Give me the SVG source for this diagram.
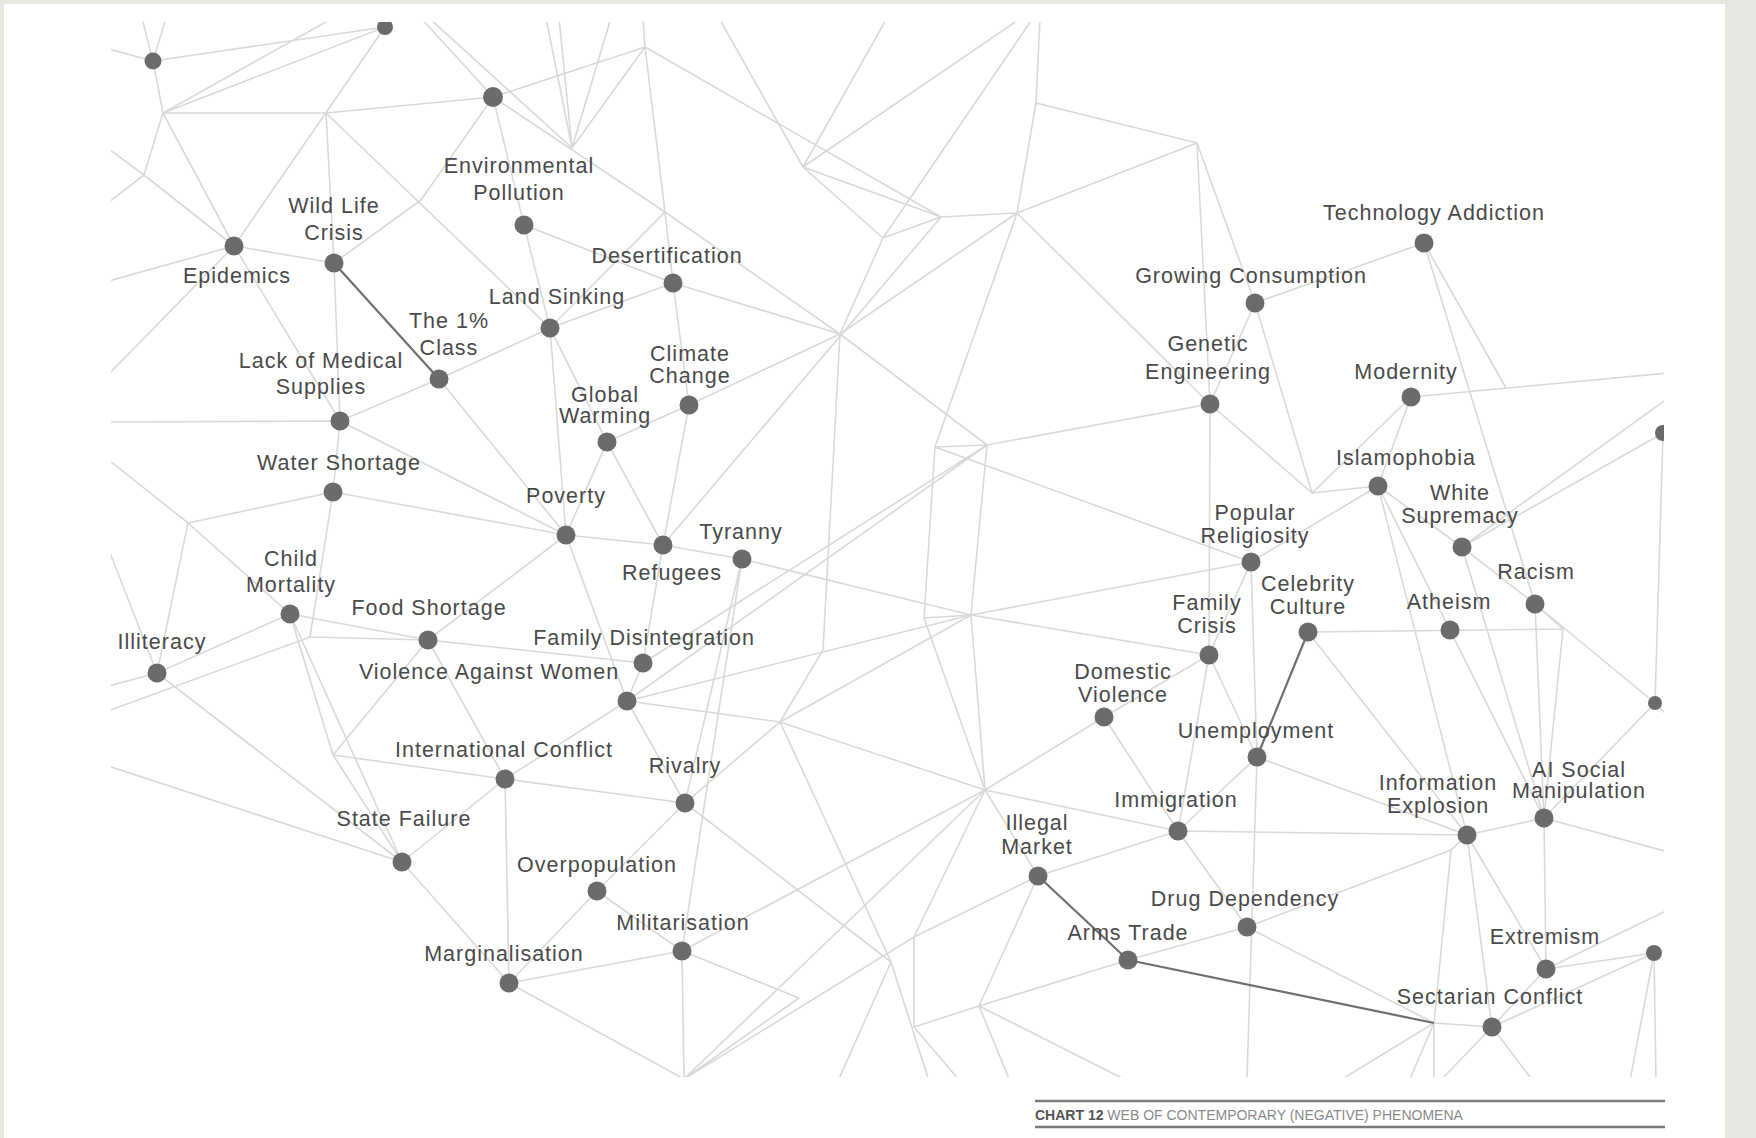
<svg xmlns="http://www.w3.org/2000/svg" width="1756" height="1138" viewBox="0 0 1756 1138">
<defs>
<style>
.e{stroke:#d9d9d9;stroke-width:1.6;fill:none}
.d{stroke:#6f6f6f;stroke-width:2.2;fill:none}
.n{fill:#6b6b6b}
.t{font-family:"Liberation Sans",Arial,sans-serif;font-size:21.5px;letter-spacing:1px;fill:#4a4a4a;text-anchor:middle}
.cap{font-family:"Liberation Sans",Arial,sans-serif;font-size:14px}
</style>
<clipPath id="plot"><rect x="111" y="22" width="1553" height="1055"/></clipPath>
</defs>
<rect x="0" y="0" width="1756" height="1138" fill="#e8e8e3"/>
<rect x="4" y="4" width="1721" height="1134" fill="#ffffff"/>
<g id="connectors" clip-path="url(#plot)">
<path class="e" d="M153 61L142 18M153 61L166 18M153 61L105 48M153 61L385 27M153 61L163 113M163 113L385 27M163 113L333 18M163 113L326 113M163 113L144 175M163 113L234 246M144 175L105 146M144 175L105 205M144 175L234 246M234 246L105 282M234 246L105 378M234 246L334 263M234 246L340 421M385 27L234 246M326 113L493 97M326 113L334 263M326 113L550 328M334 263L421 200M421 200L493 97M334 263L340 421M493 97L645 47M493 97L665 212M493 97L524 225M421 18L493 97M429 18L572 148M572 148L546 18M572 148L559 18M572 148L611 18M645 47L572 148M645 47L643 18M645 47L665 212M645 47L941 217M665 212L673 283M665 212L550 328M665 212L840 334M524 225L550 328M524 225L673 283M550 328L673 283M550 328L439 379M550 328L566 535M550 328L607 442M439 379L340 421M439 379L566 535M673 283L689 405M673 283L840 334M689 405L607 442M689 405L663 545M689 405L840 334"/>
<path class="e" d="M340 421L105 422M340 421L333 492M340 421L566 535M333 492L566 535M333 492L188 523M333 492L310 637M188 523L105 457M188 523L157 673M188 523L290 614M105 540L157 673M157 673L105 687M157 673L290 614M157 673L402 862M105 712L310 637M310 637L428 640M290 614L428 640M290 614L333 755M290 614L402 862M428 640L333 755M333 755L505 779M333 755L402 862M428 640L566 535M428 640L643 663M428 640L505 779M566 535L607 442M566 535L663 545M566 535L627 701M607 442L663 545M663 545L742 559M663 545L941 217M663 545L643 663M643 663L627 701M643 663L987 445M627 701L987 445M627 701L971 615M971 615L1251 562M627 701L780 722M627 701L505 779M627 701L685 803"/>
<path class="e" d="M105 765L402 862M402 862L505 779M402 862L509 983M505 779L509 983M505 779L685 803M597 891L685 803M597 891L509 983M597 891L682 951M509 983L682 951M509 983L684 1079M682 951L684 1079M742 559L685 803M742 559L682 951M742 559L971 615M971 615L1209 655M685 803L780 722M685 803L891 962M780 722L891 962M780 722L985 790M780 722L971 615M840 334L823 650M823 650L780 722M840 334L987 445M1017 213L935 447M935 447L987 445L971 615L924 618ZM1210 404L987 445M935 447L1251 562M924 618L985 790M971 615L985 790"/>
<path class="e" d="M719 18L803 167M887 18L803 167M1021 18L803 167M803 167L941 217M803 167L883 238M1033 18L883 238M883 238L941 217M941 217L1017 213M1040 18L1036 103M1036 103L1017 213M1036 103L1197 143M1017 213L1197 143M1017 213L1210 404M1017 213L840 334M883 238L840 334"/>
<path class="e" d="M1197 143L1210 404M1197 143L1255 303M1255 303L1424 243M1255 303L1210 404M1255 303L1312 493M1210 404L1312 493M1411 397L1312 493M1312 493L1378 486M1411 397L1378 486M1411 397L1668 373M1424 243L1506 388M1424 243L1535 604M1210 404L1209 655M1251 562L1378 486M1251 562L1257 757M1251 562L1209 655M1378 486L1462 547M1378 486L1467 835M1378 486L1544 818M1462 547L1663 433M1462 547L1668 398M1462 547L1535 604M1535 604L1655 703M1462 547L1544 818M1535 604L1544 818M1535 604L1563 629M1308 632L1563 629M1563 629L1544 818M1308 632L1467 835M1450 630L1544 818M1663 433L1655 703M1655 703L1544 818M1655 703L1668 716"/>
<path class="e" d="M1209 655L1257 757M1209 655L1178 831M1209 655L1104 717M1104 717L1178 831M1104 717L985 790M1257 757L1178 831M1257 757L1247 1079M1257 757L1467 835M1178 831L1467 835M1178 831L1247 927M1178 831L1038 876M1178 831L985 790M1038 876L985 790M1038 876L914 937M914 937L684 1079M682 951L985 790M684 1079L985 790M914 937L985 790M914 937L914 1027M1038 876L979 1006M1128 960L979 1006M979 1006L1128 1081M979 1006L1010 1081M979 1006L914 1027M891 962L838 1081M891 962L929 1081M914 1027L960 1081M682 951L799 998M799 998L684 1079M1128 960L1247 927"/>
<path class="e" d="M1467 835L1544 818M1467 835L1451 850M1451 850L1247 927M1451 850L1434 1023M1467 835L1546 969M1467 835L1492 1027M1544 818L1546 969M1544 818L1668 852M1546 969L1654 953M1546 969L1492 1027M1546 969L1668 910M1654 953L1492 1027M1654 953L1630 1081M1654 953L1656 1081M1492 1027L1434 1023M1492 1027L1440 1081M1492 1027L1533 1081M1434 1023L1339 1081M1434 1023L1409 1081M1434 1023L1434 1081M1247 927L1434 1023"/>
<path class="d" d="M334 263L439 379M1308 632L1257 757M1038 876L1128 960M1128 960L1434 1023"/>
</g>
<g id="nodes">
<g clip-path="url(#plot)">
<circle id="n-a" class="n" cx="153" cy="61" r="8.5"/>
<circle id="n-b" class="n" cx="385" cy="27" r="8"/>
<circle id="n-c" class="n" cx="493" cy="97" r="10"/>
<circle id="n-r1" class="n" cx="1663" cy="433" r="8"/>
<circle id="n-r2" class="n" cx="1655" cy="703" r="7"/>
<circle id="n-r3" class="n" cx="1654" cy="953" r="8"/>
</g>
<g id="environmental-pollution"><circle class="n" cx="524" cy="225" r="9.5"/><text class="t" x="519" y="173">Environmental<tspan x="519" dy="27">Pollution</tspan></text></g>
<g id="wild-life-crisis"><circle class="n" cx="334" cy="263" r="9.5"/><text class="t" x="334" y="213">Wild Life<tspan x="334" dy="27">Crisis</tspan></text></g>
<g id="epidemics"><circle class="n" cx="234" cy="246" r="9.5"/><text class="t" x="237" y="283">Epidemics</text></g>
<g id="desertification"><circle class="n" cx="673" cy="283" r="9.5"/><text class="t" x="667" y="263">Desertification</text></g>
<g id="land-sinking"><circle class="n" cx="550" cy="328" r="9.5"/><text class="t" x="557" y="304">Land Sinking</text></g>
<g id="the-1-class"><circle class="n" cx="439" cy="379" r="9.5"/><text class="t" x="449" y="328">The 1%<tspan x="449" dy="27">Class</tspan></text></g>
<g id="lack-of-medical-supplies"><circle class="n" cx="340" cy="421" r="9.5"/><text class="t" x="321" y="368">Lack of Medical<tspan x="321" dy="26">Supplies</tspan></text></g>
<g id="climate-change"><circle class="n" cx="689" cy="405" r="9.5"/><text class="t" x="690" y="361">Climate<tspan x="690" dy="22">Change</tspan></text></g>
<g id="global-warming"><circle class="n" cx="607" cy="442" r="9.5"/><text class="t" x="605" y="402">Global<tspan x="605" dy="21">Warming</tspan></text></g>
<g id="water-shortage"><circle class="n" cx="333" cy="492" r="9.5"/><text class="t" x="339" y="470">Water Shortage</text></g>
<g id="poverty"><circle class="n" cx="566" cy="535" r="9.5"/><text class="t" x="566" y="503">Poverty</text></g>
<g id="refugees"><circle class="n" cx="663" cy="545" r="9.5"/><text class="t" x="672" y="580">Refugees</text></g>
<g id="tyranny"><circle class="n" cx="742" cy="559" r="9.5"/><text class="t" x="741" y="539">Tyranny</text></g>
<g id="child-mortality"><circle class="n" cx="290" cy="614" r="9.5"/><text class="t" x="291" y="566">Child<tspan x="291" dy="26">Mortality</tspan></text></g>
<g id="food-shortage"><circle class="n" cx="428" cy="640" r="9.5"/><text class="t" x="429" y="615">Food Shortage</text></g>
<g id="illiteracy"><circle class="n" cx="157" cy="673" r="9.5"/><text class="t" x="162" y="649">Illiteracy</text></g>
<g id="family-disintegration"><circle class="n" cx="643" cy="663" r="9.5"/><text class="t" x="644" y="645">Family Disintegration</text></g>
<g id="violence-against-women"><circle class="n" cx="627" cy="701" r="9.5"/><text class="t" x="489" y="679">Violence Against Women</text></g>
<g id="international-conflict"><circle class="n" cx="505" cy="779" r="9.5"/><text class="t" x="504" y="757">International Conflict</text></g>
<g id="rivalry"><circle class="n" cx="685" cy="803" r="9.5"/><text class="t" x="685" y="773">Rivalry</text></g>
<g id="state-failure"><circle class="n" cx="402" cy="862" r="9.5"/><text class="t" x="404" y="826">State Failure</text></g>
<g id="overpopulation"><circle class="n" cx="597" cy="891" r="9.5"/><text class="t" x="597" y="872">Overpopulation</text></g>
<g id="militarisation"><circle class="n" cx="682" cy="951" r="9.5"/><text class="t" x="683" y="930">Militarisation</text></g>
<g id="marginalisation"><circle class="n" cx="509" cy="983" r="9.5"/><text class="t" x="504" y="961">Marginalisation</text></g>
<g id="technology-addiction"><circle class="n" cx="1424" cy="243" r="9.5"/><text class="t" x="1434" y="220">Technology Addiction</text></g>
<g id="growing-consumption"><circle class="n" cx="1255" cy="303" r="9.5"/><text class="t" x="1251" y="283">Growing Consumption</text></g>
<g id="genetic-engineering"><circle class="n" cx="1210" cy="404" r="9.5"/><text class="t" x="1208" y="351">Genetic<tspan x="1208" dy="28">Engineering</tspan></text></g>
<g id="modernity"><circle class="n" cx="1411" cy="397" r="9.5"/><text class="t" x="1406" y="379">Modernity</text></g>
<g id="islamophobia"><circle class="n" cx="1378" cy="486" r="9.5"/><text class="t" x="1406" y="465">Islamophobia</text></g>
<g id="white-supremacy"><circle class="n" cx="1462" cy="547" r="9.5"/><text class="t" x="1460" y="500">White<tspan x="1460" dy="23">Supremacy</tspan></text></g>
<g id="popular-religiosity"><circle class="n" cx="1251" cy="562" r="9.5"/><text class="t" x="1255" y="519.5">Popular<tspan x="1255" dy="23">Religiosity</tspan></text></g>
<g id="racism"><circle class="n" cx="1535" cy="604" r="9.5"/><text class="t" x="1536" y="579">Racism</text></g>
<g id="atheism"><circle class="n" cx="1450" cy="630" r="9.5"/><text class="t" x="1449" y="609">Atheism</text></g>
<g id="celebrity-culture"><circle class="n" cx="1308" cy="632" r="9.5"/><text class="t" x="1308" y="591">Celebrity<tspan x="1308" dy="23">Culture</tspan></text></g>
<g id="family-crisis"><circle class="n" cx="1209" cy="655" r="9.5"/><text class="t" x="1207" y="610">Family<tspan x="1207" dy="23">Crisis</tspan></text></g>
<g id="domestic-violence"><circle class="n" cx="1104" cy="717" r="9.5"/><text class="t" x="1123" y="679">Domestic<tspan x="1123" dy="23">Violence</tspan></text></g>
<g id="unemployment"><circle class="n" cx="1257" cy="757" r="9.5"/><text class="t" x="1256" y="738">Unemployment</text></g>
<g id="immigration"><circle class="n" cx="1178" cy="831" r="9.5"/><text class="t" x="1176" y="807">Immigration</text></g>
<g id="information-explosion"><circle class="n" cx="1467" cy="835" r="9.5"/><text class="t" x="1438" y="790">Information<tspan x="1438" dy="23">Explosion</tspan></text></g>
<g id="ai-social-manipulation"><circle class="n" cx="1544" cy="818" r="9.5"/><text class="t" x="1579" y="777">AI Social<tspan x="1579" dy="21">Manipulation</tspan></text></g>
<g id="illegal-market"><circle class="n" cx="1038" cy="876" r="9.5"/><text class="t" x="1037" y="830">Illegal<tspan x="1037" dy="24">Market</tspan></text></g>
<g id="drug-dependency"><circle class="n" cx="1247" cy="927" r="9.5"/><text class="t" x="1245" y="906">Drug Dependency</text></g>
<g id="arms-trade"><circle class="n" cx="1128" cy="960" r="9.5"/><text class="t" x="1128" y="940">Arms Trade</text></g>
<g id="extremism"><circle class="n" cx="1546" cy="969" r="9.5"/><text class="t" x="1545" y="944">Extremism</text></g>
<g id="sectarian-conflict"><circle class="n" cx="1492" cy="1027" r="9.5"/><text class="t" x="1490" y="1004">Sectarian Conflict</text></g>
</g>
<g id="caption">
<path d="M1035 1101H1665M1035 1127H1665" stroke="#7a7a7a" stroke-width="2.5"/>
<text class="cap" x="1035" y="1120"><tspan font-weight="bold" fill="#555">CHART 12</tspan><tspan fill="#8a8a8a"> WEB OF CONTEMPORARY (NEGATIVE) PHENOMENA</tspan></text>
</g>
</svg>
